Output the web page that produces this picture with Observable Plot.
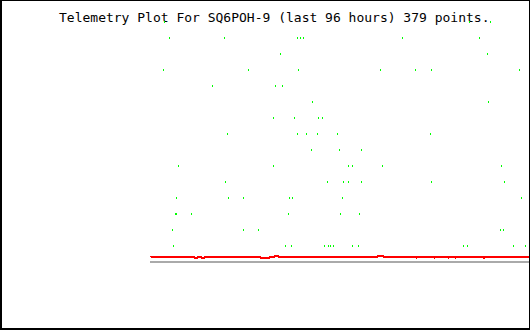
<!DOCTYPE html>
<html>
<head>
<meta charset="utf-8">
<script src="https://cdn.jsdelivr.net/npm/d3@7"></script>
<script src="https://cdn.jsdelivr.net/npm/@observablehq/plot@0.6"></script>
<style>
  html, body { margin: 0; padding: 0; background: #fff; }
  #chart svg { display: block; }
</style>
</head>
<body>
<div id="chart"></div>
<script>
// Title
const title = "Telemetry Plot For SQ6POH-9 (last 96 hours) 379 points.";

// Green telemetry samples: hours since start of window (0..96) and level value
const greenHours = [
  3.37, 80.80, 86.12,
  4.64, 18.82, 37.31, 37.82, 38.83, 63.70, 83.34,
  33.00, 85.29,
  3.12, 24.65, 37.56, 58.33, 67.20, 71.00, 93.29,
  15.78, 31.49, 33.51,
  41.11, 85.69,
  31.23, 36.47, 42.63, 43.64,
  19.33, 37.06, 39.59, 42.30, 47.19, 70.75,
  40.78, 47.70, 53.52,
  6.92, 30.98, 49.98, 50.99, 58.59, 88.98,
  19.07, 44.66, 48.96, 50.15, 53.27, 71.25, 89.74,
  6.41, 19.83, 23.63, 35.28, 35.89, 48.63, 93.80,
  6.16, 6.66, 10.39, 34.78, 47.95, 53.01,
  5.40, 23.38, 27.18, 88.73, 89.24,
  5.90, 34.27, 35.54, 43.90, 44.91, 45.42, 46.18, 51.24, 52.51, 79.11, 80.12, 91.77, 94.81
];
const greenLevels = [
  15, 15, 15,
  14, 14, 14, 14, 14, 14, 14,
  13, 13,
  12, 12, 12, 12, 12, 12, 12,
  11, 11, 11,
  10, 10,
  9, 9, 9, 9,
  8, 8, 8, 8, 8, 8,
  7, 7, 7,
  6, 6, 6, 6, 6, 6,
  5, 5, 5, 5, 5, 5, 5,
  4, 4, 4, 4, 4, 4, 4,
  3, 3, 3, 3, 3, 3,
  2, 2, 2, 2, 2,
  1, 1, 1, 1, 1, 1, 1, 1, 1, 1, 1, 1, 1
];

// Red series (step changes)
const redHours  = [0, 10.97, 11.98, 12.84, 13.93, 27.69, 30.22, 31.49, 32.35, 57.68, 58.94, 67.20, 67.45, 71.76, 72.01, 75.31, 75.56, 77.08, 77.33, 84.27, 84.85, 96];
const redValues = [0.3125, 0.25, 0.3125, 0.25, 0.3125, 0.25, 0.3125, 0.375, 0.3125, 0.375, 0.3125, 0.25, 0.3125, 0.25, 0.3125, 0.25, 0.3125, 0.25, 0.3125, 0.25, 0.3125, 0.3125];

// Grey baseline value
const baseline = [0];

const green = greenHours.map((h, i) => ({h, v: greenLevels[i]}));
const red = redHours.map((h, i) => ({h, v: redValues[i]}));

const pixelSymbol = { draw(ctx) { ctx.rect(-0.3, -1, 1, 2); } };

const plot = Plot.plot({
  width: 530,
  height: 330,
  marginLeft: 150,
  marginRight: 1,
  marginTop: 0,
  marginBottom: 0,
  style: {background: "#fff"},
  x: {domain: [0, 96], range: [150, 529], axis: null},
  y: {domain: [0, 15], range: [261, 21], axis: null},
  marks: [
    Plot.ruleY(baseline, {stroke: "#aaaaaa", strokeWidth: 2, shapeRendering: "crispEdges"}),
    Plot.line(red, {x: "h", y: "v", stroke: "#ff0000", strokeWidth: 2, curve: "step-after", shapeRendering: "crispEdges"}),
    Plot.dot(green, {x: "h", y: "v", symbol: pixelSymbol, r: 1, fill: "#00ff00", stroke: "none", shapeRendering: "crispEdges"})
  ]
});

const svg = d3.select(plot);
svg.insert("text", "g")
  .attr("x", 59)
  .attr("y", 22)
  .attr("text-anchor", "start")
  .attr("font-family", "'DejaVu Sans Mono', monospace")
  .attr("font-size", 13)
  .attr("fill", "#000")
  .text(title);
svg.append("path")
  .attr("d", "M0.5,0.5H529.5V329.5H0.5Z M1.5,0.5V329.5 M0.5,328.5H529.5")
  .attr("fill", "none")
  .attr("stroke", "#000")
  .attr("stroke-width", 1)
  .attr("shape-rendering", "crispEdges");

document.getElementById("chart").appendChild(plot);
</script>
</body>
</html>
